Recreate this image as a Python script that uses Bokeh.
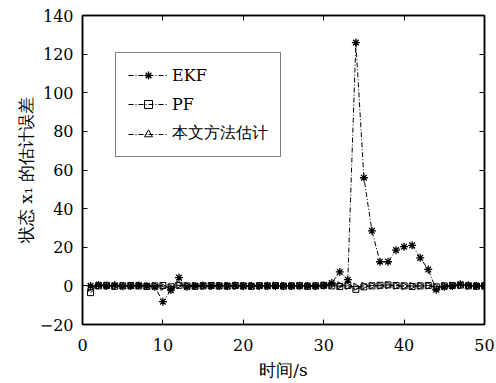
from bokeh.plotting import figure
from bokeh.models import (Legend, LegendItem, LinearAxis, FixedTicker, Range1d,
                          CustomJSTickFormatter, ColumnDataSource)
from bokeh.embed import file_html
from bokeh.resources import INLINE
import math

# ---- data ----
t = list(range(1, 51))
ekf = [0, 0.5, 0, 0.3, -0.2, 0, 0.2, 0, -0.5, -8.2,
       -2.2, 4.3, -0.5, 0, 0.2, 0, -0.1, 0, 0.2, 0,
       -0.1, 0, 0.1, 0, -0.1, 0, 0.1, 0, -0.1, 0.2,
       1.5, 7.2, 3.2, 126, 56, 28.5, 12.5, 12.5, 18.5, 20.3,
       21, 14.5, 8.5, -2, -0.5, 0, 0.8, 0.3, 0, 0]
pf = [-3.5, 0, 0.3, -0.2, 0, 0.2, 0, -0.3, 0, 0.2,
      -0.5, 0.3, 0, -0.2, 0, 0.2, 0, -0.1, 0.2, 0,
      -0.2, 0.1, 0, 0.2, -0.1, 0, 0.1, -0.2, 0, 0.3,
      0, -0.3, 0.2, -1.8, -0.5, 0, 0.3, 0.5, 0.2, 0,
      -0.3, 0, 0.2, -0.5, 0, 0.2, 0.4, 0, -0.2, 0]
prop = [-1, 0.2, 0, -0.1, 0.1, 0, 0.2, -0.1, 0, -0.5,
        -1, 0.5, 0, 0.1, -0.1, 0, 0.1, 0, -0.1, 0,
        0.1, 0, -0.1, 0.1, 0, 0, 0.1, -0.1, 0, 0.2,
        0.5, 0.3, 0, -0.5, 0, 0.2, 0, 0.3, 0, -0.1,
        0, 0, 0.1, -0.8, 0, 0.1, 0.2, 0, 0, 0]
names = ["EKF", "PF", "本文方法估计"]
x_ticks = [0, 10, 20, 30, 40, 50]
y_ticks = [-20, 0, 20, 40, 60, 80, 100, 120, 140]
x_label = "时间/s"
y_label = "状态 x\u2081 的估计误差"

FONT = "DejaVu Serif"
FS = "16px"
LFS = "17px"

p = figure(width=496, height=383, output_backend="svg", toolbar_location=None,
           x_range=Range1d(0, 50), y_range=Range1d(-20, 140))
p.min_border_left = 82
p.min_border_right = 12
p.min_border_top = 15
p.min_border_bottom = 59
p.grid.visible = False
p.outline_line_color = "black"
p.outline_line_width = 1.5
p.background_fill_color = "white"
p.border_fill_color = "white"

def style_axis(ax, ticks, show_labels=True):
    ax.ticker = FixedTicker(ticks=ticks)
    ax.major_tick_in = 5
    ax.major_tick_out = 0
    ax.minor_tick_line_color = None
    ax.axis_line_color = "black"
    ax.axis_line_width = 1.5
    ax.major_tick_line_width = 1
    ax.major_label_text_font = FONT
    ax.major_label_text_font_size = FS
    ax.major_label_text_color = "black"
    ax.axis_label_text_font = FONT
    ax.axis_label_text_font_size = LFS
    ax.axis_label_text_font_style = "normal"
    ax.axis_label_text_color = "black"
    if not show_labels:
        ax.formatter = CustomJSTickFormatter(code="return ''")

xa = p.xaxis[0]
ya = p.yaxis[0]
style_axis(xa, x_ticks)
style_axis(ya, y_ticks)
xa.axis_label = x_label
ya.axis_label = y_label
xa.major_label_standoff = 14
ya.major_label_standoff = 9
xa.axis_label_standoff = 6
ya.axis_label_standoff = 1

top = LinearAxis()
style_axis(top, x_ticks, show_labels=False)
p.add_layout(top, "above")
right = LinearAxis()
style_axis(right, y_ticks, show_labels=False)
p.add_layout(right, "right")

DASH = "5 2 1 2"
src3 = ColumnDataSource(dict(t=t, y=prop, ang=[-math.pi / 2] * len(t)))
l1 = p.line(t, ekf, line_color="black", line_width=1, line_dash=DASH)
s1 = p.scatter(t, ekf, marker="asterisk", size=8, line_color="black", line_width=1.3)
l2 = p.line(t, pf, line_color="black", line_width=1, line_dash=DASH)
s2 = p.scatter(t, pf, marker="square", size=6, line_color="black", fill_color=None, line_width=1)
l3 = p.line(t, prop, line_color="black", line_width=1, line_dash=DASH)
s3 = p.scatter("t", "y", source=src3, marker="triangle", size=7, angle="ang",
               line_color="black", fill_color=None, line_width=1)

legend = Legend(items=[LegendItem(label=names[0], renderers=[l1, s1]),
                       LegendItem(label=names[1], renderers=[l2, s2]),
                       LegendItem(label=names[2], renderers=[l3, s3])],
                location=(33, 167))
legend.label_text_font = FONT
legend.label_text_font_size = FS
legend.label_text_color = "black"
legend.border_line_color = "black"
legend.border_line_width = 1
legend.background_fill_alpha = 1
legend.glyph_width = 40
legend.glyph_height = 20
legend.label_standoff = 4
legend.spacing = 9
legend.padding = 12
legend.margin = 0
p.add_layout(legend, "center")

open("out.html", "w").write(file_html(p, INLINE))
